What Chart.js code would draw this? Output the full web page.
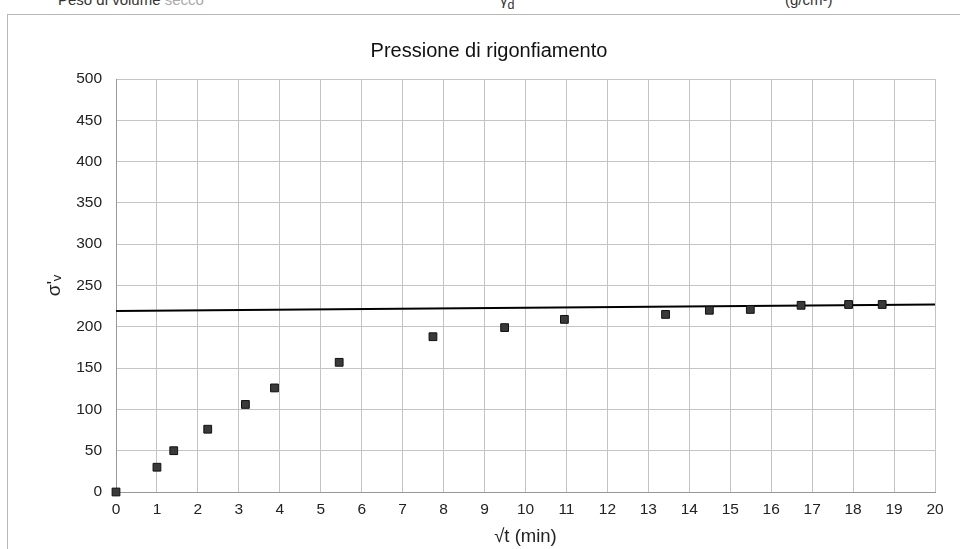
<!DOCTYPE html>
<html>
<head>
<meta charset="utf-8">
<script src="https://cdn.jsdelivr.net/npm/chart.js@4/dist/chart.umd.min.js"></script>
<style>
  body { margin: 0; background: #fff; overflow: hidden; }
  #wrap { position: relative; width: 960px; height: 549px; }
  #grafico { position: absolute; left: 0; top: 0; }
  #cornice { position: absolute; left: 7px; top: 14px; width: 970px; height: 600px;
             border: 1px solid #b8b8b8; pointer-events: none; }
  .testata { position: absolute; top: -9px; font: 15px "Liberation Sans", Arial, sans-serif; color: #333; white-space: nowrap; }
</style>
</head>
<body>
<div id="wrap">
  <div class="testata" style="left:58px">Peso di volume <span style="color:#aaa">secco</span></div>
  <div class="testata" style="left:500px">γ<sub>d</sub></div>
  <div class="testata" style="left:785px">(g/cm³)</div>
  <canvas id="grafico" width="960" height="549"></canvas>
  <div id="cornice"></div>
</div>
<script>
// radice del tempo (min) e pressione letta
const radiceT = [0, 1, 1.41, 2.24, 3.16, 3.87, 5.45, 7.74, 9.49, 10.95, 13.42, 14.49, 15.49, 16.73, 17.89, 18.71];
const pressione = [0, 30, 50, 76, 106, 126, 157, 188, 199, 209, 215, 220, 221, 226, 227, 227];

// retta della pressione di rigonfiamento
const rettaX = [0, 20];
const rettaY = [219, 227];

const xTicks = { min: 0, max: 20, step: 1 };
const yTicks = { min: 0, max: 500, step: 50 };

let punti = [];
for (let i = 0; i < radiceT.length; i++) {
    punti.push({ x: radiceT[i], y: pressione[i] });
}
let retta = [];
for (let i = 0; i < rettaX.length; i++) {
    retta.push({ x: rettaX[i], y: rettaY[i] });
}

const font = "'Liberation Sans', Arial, sans-serif";

new Chart("grafico", {
    type: "scatter",
    data: {
        datasets: [{
            data: punti,
            pointStyle: "rect",
            pointRadius: 5.5,
            backgroundColor: "#3a3a3a",
            borderColor: "#111",
            borderWidth: 1,
            clip: false
        }, {
            type: "line",
            data: retta,
            borderColor: "#000",
            borderWidth: 2,
            pointRadius: 0,
            fill: false
        }]
    },
    options: {
        responsive: false,
        animation: false,
        // padding sinistro largo per centrare il titolo come nell'originale
        layout: { padding: { left: 43, top: 28, right: 25, bottom: 0 } },
        plugins: {
            legend: { display: false },
            tooltip: { enabled: false },
            title: {
                display: true,
                text: "Pressione di rigonfiamento",
                color: "#111",
                font: { family: font, size: 20, weight: "normal" },
                padding: { top: 11, bottom: 16 }
            }
        },
        scales: {
            x: {
                type: "linear",
                min: xTicks.min,
                max: xTicks.max,
                afterFit: function(scale) { scale.height = 57; },
                ticks: { stepSize: xTicks.step, color: "#222", padding: 8, font: { family: font, size: 15.5 } },
                grid: { color: "#c4c4c4", drawTicks: false },
                border: { color: "#999" },
                title: { display: true, text: "√t (min)", color: "#222", padding: { top: 1, bottom: 1 }, font: { family: font, size: 18.5 } }
            },
            y: {
                min: yTicks.min,
                max: yTicks.max,
                afterFit: function(scale) { scale.width = 73; },
                ticks: { stepSize: yTicks.step, color: "#222", padding: 14, font: { family: font, size: 15.5 } },
                grid: { color: "#c4c4c4", drawTicks: false },
                border: { color: "#999" },
                title: { display: true, text: "σ'ᵥ", color: "#222", padding: { top: 0, bottom: 2 }, font: { family: font, size: 19 } }
            }
        }
    }
});
</script>
</body>
</html>
